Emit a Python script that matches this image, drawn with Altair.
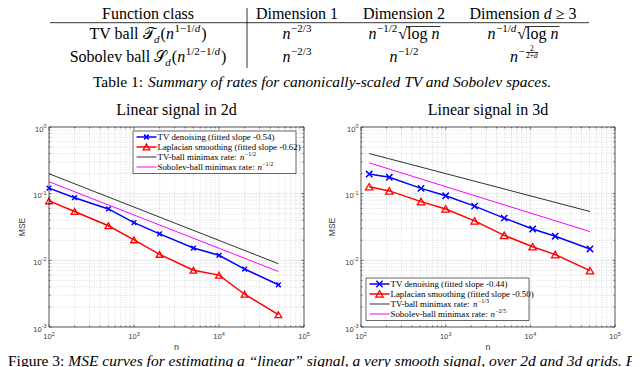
import altair as alt
import pandas as pd

# ---------------- data ----------------
n_2d = [100, 200, 500, 1000, 2000, 5000, 10000, 20000, 50000]
tv_2d = [0.121, 0.087, 0.059, 0.0367, 0.0249, 0.0153, 0.0119, 0.0074, 0.0043]
lap_2d = [0.078, 0.054, 0.033, 0.0203, 0.0123, 0.0071, 0.0060, 0.0031, 0.00153]
rate_n_2d = [100, 50000]
tv_rate_2d = [0.199, 0.0089]
sob_rate_2d = [0.151, 0.0068]

n_3d = [125, 216, 512, 1000, 2197, 4913, 10648, 19683, 50653]
tv_3d = [0.197, 0.176, 0.120, 0.093, 0.065, 0.043, 0.0295, 0.023, 0.0148]
lap_3d = [0.127, 0.110, 0.076, 0.059, 0.039, 0.0237, 0.016, 0.0122, 0.0070]
rate_n_3d = [125, 50653]
tv_rate_3d = [0.40, 0.054]
sob_rate_3d = [0.29, 0.027]

titles = ["Linear signal in 2d", "Linear signal in 3d"]
legend_2d = ["TV denoising (fitted slope -0.54)", "Laplacian smoothing (fitted slope -0.62)",
             "TV-ball minimax rate: ", "Sobolev-ball minimax rate: "]
rate_exp_2d = ["\u22121/2", "\u22121/2"]
legend_3d = ["TV denoising (fitted slope -0.44)", "Laplacian smoothing (fitted slope -0.50)",
             "TV-ball minimax rate: ", "Sobolev-ball minimax rate: "]
rate_exp_3d = ["\u22121/3", "\u22122/5"]

x_ticks = [100, 1000, 10000, 100000]
x_exps = ["2", "3", "4", "5"]
y_ticks = [1, 0.1, 0.01, 0.001]
y_exps = ["0", "-1", "-2", "-3"]
x_minor = [m * 10 ** k for k in (2, 3, 4) for m in range(2, 10)]
y_minor = [m * 10.0 ** k for k in (-3, -2, -1) for m in range(2, 10)]

# ---------------- style ----------------
BLUE, RED, MAG, KLINE, DARK, LBL = "#0000ff", "#ff0000", "#ff00ff", "#303030", "#262626", "#3a3a3a"
SERIF, SANS = "Liberation Serif", "Liberation Sans"
XPATH = "M-1,-1L1,1M-1,1L1,-1"
OY, H = 119, 200
LEGF = 8.9
dummy = pd.DataFrame({"d": [0]})

TNR = {' ': 250, '!': 333, '(': 333, ')': 333, '+': 564, ',': 250, '-': 333, '.': 250, '/': 278,
       ':': 278, ';': 278, '=': 564, '\u201c': 444, '\u201d': 444, '\u2212': 564, '\u2265': 549,
       '\u221a': 549, '\U0001D4AF': 700, '\U0001D4AE': 700}
for c in "0123456789":
    TNR[c] = 500
TNR.update(dict(zip("ABCDEFGHIJKLMNOPQRSTUVWXYZ",
                    [722, 667, 667, 722, 611, 556, 722, 722, 333, 389, 722, 611, 889, 722, 722, 556,
                     722, 667, 556, 611, 722, 722, 944, 722, 722, 611])))
TNR.update(dict(zip("abcdefghijklmnopqrstuvwxyz",
                    [444, 500, 444, 500, 444, 333, 500, 500, 278, 278, 500, 278, 778, 500, 500, 500,
                     500, 333, 389, 278, 500, 500, 722, 500, 500, 444])))


def tw(s, size):
    return sum(TNR.get(c, 500) for c in s) * size / 1000.0


pieces = []   # serif text pieces (chart pixel coords)
trules = []   # table rules


def lay(runs, x0, y):
    x = x0
    pos = []
    for r in runs:
        text, size, it = r[0], r[1], r[2]
        dy = r[3] if len(r) > 3 else 0
        gap = r[4] if len(r) > 4 else 0
        pieces.append(dict(x=x, y=y + dy, t=text, s=size, it=it))
        w = tw(text, size)
        pos.append((x, x + w))
        x += w + gap
    return pos


def width(runs):
    return sum(tw(r[0], r[1]) + (r[4] if len(r) > 4 else 0) for r in runs)


def lay_c(runs, cx, y):
    return lay(runs, cx - width(runs) / 2, y)


# ---------------- table ----------------
F = 16
S = 11
yh, y2, y3, yc = 11, 31, 54, 79
lay_c([("Function class", F, False)], 140, yh)
lay_c([("Dimension 1", F, False)], 289, yh)
lay_c([("Dimension 2", F, False)], 396, yh)
lay_c([("Dimension ", F, False), ("d", F, True, 0, 4), ("\u2265", F, False, 0, 4), ("3", F, False)], 515, yh)

lay_c([("TV ball ", F, False), ("\U0001D4AF", F, False), ("d", S, True, 3.5, 1), ("(", F, False),
       ("n", F, True, 0, 0.5), ("1\u22121/", S, False, -7), ("d", S, True, -7, 1), (")", F, False)], 140, y2)
lay_c([("Sobolev ball ", F, False), ("\U0001D4AE", F, False), ("d", S, True, 3.5, 1), ("(", F, False),
       ("n", F, True, 0, 0.5), ("1/2\u22121/", S, False, -7), ("d", S, True, -7, 1), (")", F, False)], 140, y3)
for yy in (y2, y3):
    lay_c([("n", F, True, 0, 0.5), ("\u22122/3", S, False, -7)], 289, yy)
p = lay_c([("n", F, True, 0, 0.5), ("\u22121/2", S, False, -7, 1), ("\u221a", F, False), ("log ", F, False),
           ("n", F, True)], 396, y2)
trules.append(dict(x=p[2][1] - 1, x2=p[4][1] + 1, y=y2 - 12.5, y2=y2 - 12.5))
p = lay_c([("n", F, True, 0, 0.5), ("\u22121/", S, False, -7), ("d", S, True, -7, 1), ("\u221a", F, False),
           ("log ", F, False), ("n", F, True)], 515, y2)
trules.append(dict(x=p[3][1] - 1, x2=p[5][1] + 1, y=y2 - 12.5, y2=y2 - 12.5))
lay_c([("n", F, True, 0, 0.5), ("\u22121/2", S, False, -7)], 396, y3)
p = lay_c([("n", F, True, 0, 0.5), ("\u2212", S, False, -7, 1.5)], 510, y3)
fx0 = p[1][1] + 1.5
fw = tw("2+d", 7.5)
lay_c([("2", 7.5, False)], fx0 + fw / 2, y3 - 11)
lay_c([("2+", 7.5, False), ("d", 7.5, True)], fx0 + fw / 2, y3 - 4)
trules.append(dict(x=fx0, x2=fx0 + fw, y=y3 - 9.5, y2=y3 - 9.5))

trules.append(dict(x=42, x2=581, y=14.7, y2=14.7))
trules.append(dict(x=239, x2=239, y=0, y2=60))

lay_c([("Table 1: ", 15.5, False),
       ("Summary of rates for canonically-scaled TV and Sobolev spaces.", 15.5, True)], 315, yc)
lay([("Figure 3: ", 15.5, False),
     ("MSE curves for estimating a \u201clinear\u201d signal, a very smooth signal, over 2d and 3d grids. For each",
      15.5, True)], 0, 358)


# ---------------- panels ----------------
def panel(ox, W, n, tv, lap, rn, tvr, sobr, cross_size, tri_size):
    xs = alt.Scale(type="log", domain=[100, 100000], range=[ox, ox + W])
    ys = alt.Scale(type="log", domain=[0.001, 1], range=[OY + H, OY])

    def X(f):
        return alt.X(f, type="quantitative", scale=xs, axis=None)

    def Y(f):
        return alt.Y(f, type="quantitative", scale=ys, axis=None)

    L = []
    gxm = pd.DataFrame({"v": x_minor})
    gym = pd.DataFrame({"v": y_minor})
    gxM = pd.DataFrame({"v": x_ticks[1:-1]})
    gyM = pd.DataFrame({"v": y_ticks[1:-1]})
    gxa = pd.DataFrame({"v": x_ticks})
    gya = pd.DataFrame({"v": y_ticks})
    minor = dict(color="#b8b8b8", strokeWidth=0.5, strokeDash=[1, 1.5])
    major = dict(color="#dadada", strokeWidth=0.6)
    L.append(alt.Chart(gxm).mark_rule(**minor).encode(x=X("v"), y=alt.value(OY), y2=alt.value(OY + H)))
    L.append(alt.Chart(gym).mark_rule(**minor).encode(y=Y("v"), x=alt.value(ox), x2=alt.value(ox + W)))
    L.append(alt.Chart(gxM).mark_rule(**major).encode(x=X("v"), y=alt.value(OY), y2=alt.value(OY + H)))
    L.append(alt.Chart(gyM).mark_rule(**major).encode(y=Y("v"), x=alt.value(ox), x2=alt.value(ox + W)))

    df = pd.DataFrame({"n": n, "tv": tv, "lap": lap})
    dr = pd.DataFrame({"n": rn, "tv": tvr, "sob": sobr})
    L.append(alt.Chart(dr).mark_line(color=KLINE, strokeWidth=1).encode(x=X("n"), y=Y("tv")))
    L.append(alt.Chart(dr).mark_line(color=MAG, strokeWidth=1).encode(x=X("n"), y=Y("sob")))
    L.append(alt.Chart(df).mark_line(color=BLUE, strokeWidth=1.5).encode(x=X("n"), y=Y("tv")))
    L.append(alt.Chart(df).mark_point(shape=XPATH, filled=False, color=BLUE, strokeWidth=1.5,
                                      size=cross_size, opacity=1).encode(x=X("n"), y=Y("tv")))
    L.append(alt.Chart(df).mark_line(color=RED, strokeWidth=1.5).encode(x=X("n"), y=Y("lap")))
    L.append(alt.Chart(df).mark_point(shape="triangle-up", filled=False, color=RED, strokeWidth=1.3,
                                      size=tri_size, opacity=1).encode(x=X("n"), y=Y("lap")))

    # frame and ticks
    L.append(alt.Chart(dummy).mark_rect(fill="transparent", stroke=DARK, strokeWidth=0.8).encode(
        x=alt.value(ox), x2=alt.value(ox + W), y=alt.value(OY), y2=alt.value(OY + H)))
    tk = dict(color=DARK, strokeWidth=0.6)
    for d, ln in ((gxa, 2.6), (gxm, 1.5)):
        L.append(alt.Chart(d).mark_rule(**tk).encode(x=X("v"), y=alt.value(OY + H), y2=alt.value(OY + H - ln)))
        L.append(alt.Chart(d).mark_rule(**tk).encode(x=X("v"), y=alt.value(OY), y2=alt.value(OY + ln)))
    for d, ln in ((gya, 2.6), (gym, 1.5)):
        L.append(alt.Chart(d).mark_rule(**tk).encode(y=Y("v"), x=alt.value(ox), x2=alt.value(ox + ln)))
        L.append(alt.Chart(d).mark_rule(**tk).encode(y=Y("v"), x=alt.value(ox + W), x2=alt.value(ox + W - ln)))

    # tick labels
    xl = pd.DataFrame({"v": x_ticks, "e": x_exps})
    L.append(alt.Chart(xl).mark_text(align="right", baseline="alphabetic", dx=2.6, font=SANS, fontSize=7.5,
                                     color=LBL).encode(x=X("v"), y=alt.value(OY + H + 12), text=alt.value("10")))
    L.append(alt.Chart(xl).mark_text(align="left", baseline="alphabetic", dx=2.8, font=SANS, fontSize=5.5,
                                     color=LBL).encode(x=X("v"), y=alt.value(OY + H + 8.5), text="e:N"))
    yl0 = pd.DataFrame({"v": y_ticks[:1], "e": y_exps[:1]})
    yl1 = pd.DataFrame({"v": y_ticks[1:], "e": y_exps[1:]})
    for d, ew in ((yl0, 3.1), (yl1, 4.9)):
        L.append(alt.Chart(d).mark_text(align="right", baseline="alphabetic", dy=4.5, font=SANS, fontSize=7.5,
                                        color=LBL).encode(x=alt.value(ox - 2.5 - ew), y=Y("v"),
                                                          text=alt.value("10")))
        L.append(alt.Chart(d).mark_text(align="right", baseline="alphabetic", dy=1, font=SANS, fontSize=5.5,
                                        color=LBL).encode(x=alt.value(ox - 2.5), y=Y("v"), text="e:N"))
    return alt.layer(*L)


def legend(bx, by, texts, exps, cross_size, tri_size):
    L = []
    L.append(alt.Chart(dummy).mark_rect(fill="white", stroke=DARK, strokeWidth=0.7).encode(
        x=alt.value(bx), x2=alt.value(bx + 163), y=alt.value(by), y2=alt.value(by + 42.5)))
    rows = [by + 6, by + 16, by + 26, by + 36]
    cols = [BLUE, RED, KLINE, MAG]
    wids = [1.5, 1.5, 1, 1]
    for r, c, w in zip(rows, cols, wids):
        L.append(alt.Chart(dummy).mark_rule(color=c, strokeWidth=w).encode(
            x=alt.value(bx + 3.5), x2=alt.value(bx + 23.5), y=alt.value(r)))
    L.append(alt.Chart(dummy).mark_point(shape=XPATH, filled=False, color=BLUE, strokeWidth=1.5,
                                         size=cross_size, opacity=1).encode(
        x=alt.value(bx + 13.5), y=alt.value(rows[0])))
    L.append(alt.Chart(dummy).mark_point(shape="triangle-up", filled=False, color=RED, strokeWidth=1.3,
                                         size=tri_size, opacity=1).encode(
        x=alt.value(bx + 13.5), y=alt.value(rows[1])))
    tx = bx + 24.5
    for r, t in zip(rows, texts):
        L.append(alt.Chart(dummy).mark_text(align="left", baseline="middle", font=SERIF, fontSize=LEGF,
                                            color="black").encode(
            x=alt.value(tx), y=alt.value(r), text=alt.value(t)))
    for r, t, e in zip(rows[2:], texts[2:], exps):
        nx = tx + tw(t, LEGF) + 0.3
        L.append(alt.Chart(dummy).mark_text(align="left", baseline="middle", font=SERIF, fontSize=LEGF,
                                            fontStyle="italic", color="black").encode(
            x=alt.value(nx), y=alt.value(r), text=alt.value("n")))
        L.append(alt.Chart(dummy).mark_text(align="left", baseline="middle", font=SERIF, fontSize=6,
                                            color="black").encode(
            x=alt.value(nx + tw("n", LEGF) + 0.3), y=alt.value(r - 3), text=alt.value(e)))
    return L


layers = []
layers.append(panel(41, 255, n_2d, tv_2d, lap_2d, rate_n_2d, tv_rate_2d, sob_rate_2d, 22, 45))
layers.append(panel(353, 254, n_3d, tv_3d, lap_3d, rate_n_3d, tv_rate_3d, sob_rate_3d, 40, 55))
layers += legend(125, 123, legend_2d, rate_exp_2d, 22, 45)
layers += legend(358, 270, legend_3d, rate_exp_3d, 40, 55)

# panel titles and axis titles
for cx, t in zip((168.5, 480), titles):
    layers.append(alt.Chart(dummy).mark_text(align="center", baseline="alphabetic", font=SERIF, fontSize=16,
                                             color="black").encode(
        x=alt.value(cx), y=alt.value(107), text=alt.value(t)))
    layers.append(alt.Chart(dummy).mark_text(align="center", baseline="alphabetic", font=SANS, fontSize=9,
                                             color=LBL).encode(
        x=alt.value(cx), y=alt.value(342), text=alt.value("n")))
for mx in (13.5, 324):
    layers.append(alt.Chart(dummy).mark_text(align="center", baseline="middle", angle=270, font=SANS,
                                             fontSize=8.5, color=LBL).encode(
        x=alt.value(mx), y=alt.value(219), text=alt.value("MSE")))

# table rules and text
layers.append(alt.Chart(pd.DataFrame(trules)).mark_rule(color="black", strokeWidth=0.8).encode(
    x=alt.X("x:Q", scale=None, axis=None), x2="x2:Q",
    y=alt.Y("y:Q", scale=None, axis=None), y2="y2:Q"))
for pc in pieces:
    kw = dict(align="left", baseline="alphabetic", font=SERIF, fontSize=float(pc["s"]), color="black")
    if pc["it"]:
        kw["fontStyle"] = "italic"
    layers.append(alt.Chart(dummy).mark_text(**kw).encode(
        x=alt.value(round(pc["x"], 2)), y=alt.value(round(pc["y"], 2)), text=alt.value(pc["t"])))

chart = alt.layer(*layers).resolve_scale(x="independent", y="independent").properties(
    width=624, height=359, autosize=alt.AutoSizeParams(type="none"), padding=0, background="white"
).configure_view(strokeWidth=0)

chart.save("out.html", embed_options={"renderer": "svg", "actions": False})
